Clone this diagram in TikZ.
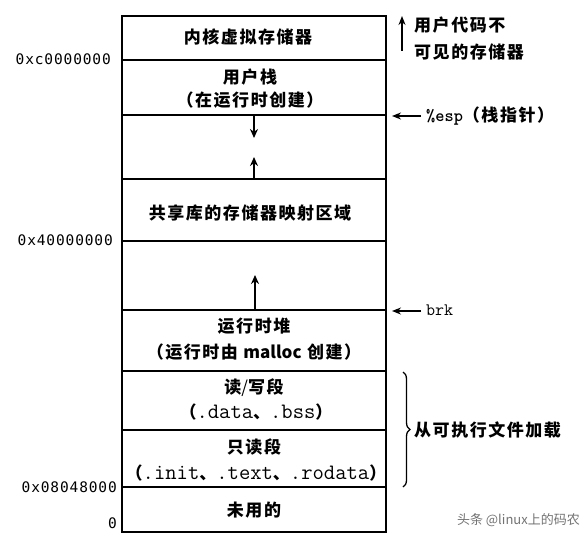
\documentclass[tikz,border=0pt]{standalone}
\usepackage{fontspec}
\usetikzlibrary{arrows.meta,decorations.pathreplacing}
\newfontfamily\cjkf{Noto Sans CJK SC}[LetterSpace=9]
\newfontfamily\cjkn{Noto Sans CJK SC}
\newfontfamily\hexf{DejaVu Sans Mono}[LetterSpace=6]
\newcommand{\cjkt}{\cjkf\bfseries\fontsize{17}{19}\selectfont}
\newcommand{\monot}{\ttfamily\addfontfeatures{FakeBold=1.6}\fontsize{22}{23}\selectfont}
\newcommand{\monos}{\ttfamily\addfontfeatures{FakeBold=1.6}\fontsize{17.5}{19}\selectfont}
\tikzset{
  frame/.style={line width=2.2pt},
  sep/.style={line width=2pt},
  txt/.style={inner sep=0pt, font=\cjkt},
  hexlbl/.style={inner sep=0pt, anchor=east, font=\hexf\fontsize{14.5}{16}\selectfont},
  sidelbl/.style={inner sep=0pt, anchor=west, font=\cjkt},
  growarrow/.style={line width=1.8pt, -{Stealth[length=9pt,width=8pt]}},
  ptrarrow/.style={line width=1.4pt, -{Stealth[length=9pt,width=7pt]}},
}
\begin{document}
\begin{tikzpicture}[x=1pt,y=-1pt]
\useasboundingbox (0,0) rectangle (588,535);
% boundaries
\coordinate (tl) at (122,16);
\coordinate (br) at (386,532);
\foreach \n/\y in {a/60,b/115,c/179,d/241,e/310,f/371,g/430,h/487}{
  \coordinate (L\n) at (122,\y);
  \coordinate (R\n) at (386,\y);
}
\draw[frame] (tl) rectangle (br);
\foreach \n in {a,b,c,d,e,f,g,h}{ \draw[sep] (L\n) -- (R\n); }

% region texts
\node[txt] (kernel) at (248,37) {内核虚拟存储器};
\node[txt] (stack) at (250,77) {用户栈};
\node[txt] (stack2) at (250,100) {（在运行时创建）};
\node[txt] (shared) at (250,213) {共享库的存储器映射区域};
\node[txt] (heap) at (254,326) {运行时堆};
\node[txt] (heap2) at (254,352) {（运行时由 {\cjkn\bfseries malloc} 创建）};
\node[txt] (rw) at (254,388) {读{\cjkn\mdseries /}写段};
\node[inner sep=0pt] (rw2) at (256,412) {{\cjkt （}{\monot .data}{\cjkt 、}{\monot .bss}{\cjkt ）}};
\node[txt] (ro) at (254,447) {只读段};
\node[inner sep=0pt] (ro2) at (256,473) {{\cjkt （}{\monot .init}{\cjkt 、}{\monot .text}{\cjkt 、}{\monot .rodata}{\cjkt ）}};
\node[txt] (unused) at (254,510) {未用的};

% growth arrows
\coordinate (sdA) at (254,115); \coordinate (sdB) at (254,138);
\coordinate (suA) at (254,179); \coordinate (suB) at (254,157);
\coordinate (huA) at (255,310); \coordinate (huB) at (255,275);
\draw[growarrow] (sdA) -- (sdB);
\draw[growarrow] (suA) -- (suB);
\draw[growarrow] (huA) -- (huB);

% addresses
\node[hexlbl] (hx1) at (111,59) {0xc0000000};
\node[hexlbl] (hx2) at (113,240) {0x40000000};
\node[hexlbl] (hx3) at (117,487) {0x08048000};
\node[hexlbl] (hx4) at (117,523) {0};

% right side
\coordinate (invA) at (402,51); \coordinate (invB) at (402,16);
\draw[ptrarrow] (invA) -- (invB);
\node[sidelbl] (inv1) at (414,25) {用户代码不};
\node[sidelbl] (inv2) at (414,52) {可见的存储器};

\coordinate (espA) at (421,116); \coordinate (espB) at (392,116);
\draw[ptrarrow] (espA) -- (espB);
\node[sidelbl] (esp) at (426,116) {{\monos\%esp}{\cjkt （栈指针）}};

\coordinate (brkA) at (421,311); \coordinate (brkB) at (392,311);
\draw[ptrarrow] (brkA) -- (brkB);
\node[inner sep=0pt, anchor=west, font=\monos] (brk) at (426,310) {brk};

\coordinate (brT) at (403,372); \coordinate (brB) at (403,487);
\draw[line width=1.3pt, decorate, decoration={brace, amplitude=7pt}] (brT) -- (brB);
\node[sidelbl] (load) at (414,430) {从可执行文件加载};

% watermark
\node[inner sep=0pt, anchor=east, text=black!55, font=\cjkn\fontsize{13}{15}\selectfont] (wm) at (580,520) {头条 @linux上的码农};
\end{tikzpicture}
\end{document}
